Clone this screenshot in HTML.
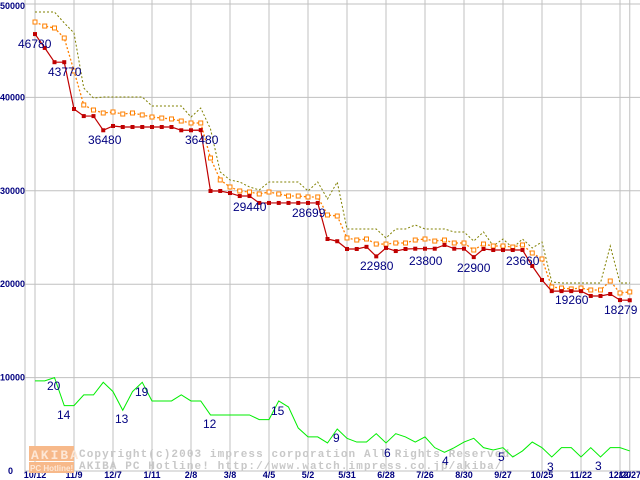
<!DOCTYPE html>
<html><head><meta charset="utf-8"><style>
html,body{margin:0;padding:0;background:#fff;}
svg{display:block;}
text{font-family:"Liberation Sans","DejaVu Sans",sans-serif;}
</style></head><body>
<svg id="chart" width="640" height="480" viewBox="0 0 640 480" xmlns="http://www.w3.org/2000/svg">
<g id="grid"></g>
<g id="watermark">
 <rect x="29" y="446" width="45" height="15" fill="#f7b98a"/>
 <text x="31" y="459" font-size="13" font-weight="bold" fill="#fde7d6" letter-spacing="2" style="font-family:'Liberation Mono',monospace">AKIBA</text>
 <rect x="29" y="462" width="45" height="11" fill="#f7b98a"/>
 <text x="30" y="471" font-size="8" font-weight="bold" fill="#fde7d6">PC Hotline!</text>
 <text x="79" y="457" font-size="11" font-weight="bold" fill="#c8c8c8" letter-spacing="1.1" style="font-family:'Liberation Mono',monospace">Copyright(c)2003 impress corporation All Rights Reserved.</text>
 <text x="79" y="469" font-size="11" font-weight="bold" fill="#c8c8c8" letter-spacing="1.1" style="font-family:'Liberation Mono',monospace">AKIBA PC Hotline!  http://www.watch.impress.co.jp/akiba/</text>
</g>
<g id="series"></g>
<g id="labels"></g>
</svg>
<script>
const xTicks = ["10/12","11/9","12/7","1/11","2/8","3/8","4/5","5/2","5/31","6/28","7/26","8/30","9/27","10/25","11/22","12/20","12/27"];
const xTickIdx = [0,4,8,12,16,20,24,28,32,36,40,44,48,52,56,60,61];
const yTicks = [0,10000,20000,30000,40000,50000];
const minPrice = [46780,45300,43770,43770,38760,38000,38000,36480,36940,36830,36830,36830,36830,36830,36830,36480,36480,36500,29980,29980,29760,29440,29440,28700,28699,28699,28699,28699,28699,28699,24840,24600,23770,23770,24000,22980,23880,23550,23770,23800,23800,23800,24200,23800,23800,22900,23770,23660,23660,23660,23660,21950,20450,19260,19260,19260,19260,18740,18740,18950,18300,18279];
const avgPrice = [48070,47640,47430,46360,42830,39190,38650,38330,38440,38220,38330,38120,37900,37790,37690,37470,37260,37260,33510,31160,30410,29980,29870,29660,29870,29660,29440,29440,29340,29340,27410,27300,24950,24730,24840,24300,24300,24410,24410,24730,24840,24620,24730,24410,24410,23660,24300,24090,24090,23980,24200,23340,22700,19700,19590,19490,19590,19380,19380,20340,19060,19170];
const maxPrice = [49140,49140,49140,47970,46900,41010,39930,40040,40040,40040,40040,40040,39080,39080,39080,39080,37900,38860,36620,32010,31160,30940,30410,30090,30940,30940,30940,30940,29980,30940,29120,30940,25910,25910,25910,25910,24950,25910,25910,26340,25910,25910,25910,25590,25590,24620,25590,24090,24840,23880,24840,23880,24520,20240,20130,20130,20130,20130,20130,24090,20130,20130];
const shopCount = [19.3,19.3,20,14,14,16.3,16.3,19,17,13,17,19,15,15,15,16.3,15,15,12,12,12,12,12,11,11,15,13.7,9.2,7.3,7.3,6,9,7,6.2,6.2,8,6,8,7.3,6.2,7.3,5,4,5,6.2,7,5,4.5,5,3,4.3,6.2,5,3,5,5,3,5,3,5,5,4.3];
const priceLabels = [["46780",0],["43770",2],["36480",7],["36480",16],["29440",21],["28699",27],["22980",35],["23800",41],["22900",45],["23660",49],["19260",54],["18279",61]];
const priceLabelPos = [[18,48],[48,76],[88,144],[185,144],[233,211],[292,217],[360,270],[409,265],[457,272],[506,265],[555,304],[604,314]];
const countLabels = ["20","14","13","19","12","15","9","6","4","5","3","3"];
const countLabelPos = [[47,390],[57,419],[115,423],[135,396],[203,428],[271,415],[333,442],[384,457],[442,465],[498,461],[547,471],[595,470]];

const NS="http://www.w3.org/2000/svg";
const X0=35, DX=9.75, Y0=471, YS=467/50000, CNT=500;
function xs(i){return X0+i*DX;}
function ys(v){return Y0-v*YS;}
function mk(tag,attrs,parent){const e=document.createElementNS(NS,tag);for(const k in attrs)e.setAttribute(k,attrs[k]);parent.appendChild(e);return e;}
const grid=document.getElementById('grid');
yTicks.forEach(v=>{
  const l=mk('line',{x1:25,x2:640,y1:ys(v),y2:ys(v),stroke:'#c0c0c0','stroke-width':1},grid);
  
  
  const t=mk('text',{x:v===0?8:0,y:ys(v)+(v===50000?5:3),'font-size':9,'font-weight':'bold',fill:'#000080'},grid);
  
  
  t.textContent=String(v);
});
xTicks.forEach((lab,k)=>{
  const x=xs(xTickIdx[k]);
  const l=mk('line',{x1:x,x2:x,y1:0,y2:471,stroke:'#c0c0c0','stroke-width':1},grid);
  
  
  const t=mk('text',{x:x,y:478,'font-size':9,'font-weight':'bold',fill:'#000080','text-anchor':'middle'},grid);
  
  
  t.textContent=lab;
});
const ax=mk('line',{x1:25,x2:25,y1:0,y2:472,stroke:'#c0c0c0'},grid);


const ser=document.getElementById('series');
function pts(arr,scale){return arr.map((v,i)=>xs(i)+','+ys(v*scale)).join(' ');}
const g1=mk('polyline',{points:pts(shopCount,CNT),fill:'none',stroke:'#00ee00','stroke-width':1},ser);


const g2=mk('polyline',{points:pts(maxPrice,1),fill:'none',stroke:'#808000','stroke-width':1,'stroke-dasharray':'2,2'},ser);


const g3=mk('polyline',{points:pts(avgPrice,1),fill:'none',stroke:'#ff8000','stroke-width':1.3,'stroke-dasharray':'2,2'},ser);


avgPrice.forEach((v,i)=>{
  const r=mk('rect',{x:xs(i)-2,y:ys(v)-2,width:4,height:4,fill:'#fff',stroke:'#ff8000','stroke-width':1},ser);
  
  
});
const g4=mk('polyline',{points:pts(minPrice,1),fill:'none',stroke:'#c00000','stroke-width':1.2},ser);


minPrice.forEach((v,i)=>{
  const r=mk('rect',{x:xs(i)-2,y:ys(v)-2,width:4,height:4,fill:'#c00000'},ser);
  
  
});
const lb=document.getElementById('labels');
priceLabels.forEach((p,k)=>{
  const t=mk('text',{x:priceLabelPos[k][0],y:priceLabelPos[k][1],'font-size':12,fill:'#000080'},lb);
  
  
  t.textContent=p[0];
});
countLabels.forEach((c,k)=>{
  const t=mk('text',{x:countLabelPos[k][0],y:countLabelPos[k][1],'font-size':12,fill:'#000080'},lb);
  
  
  t.textContent=c;
});
</script>
</body></html>
